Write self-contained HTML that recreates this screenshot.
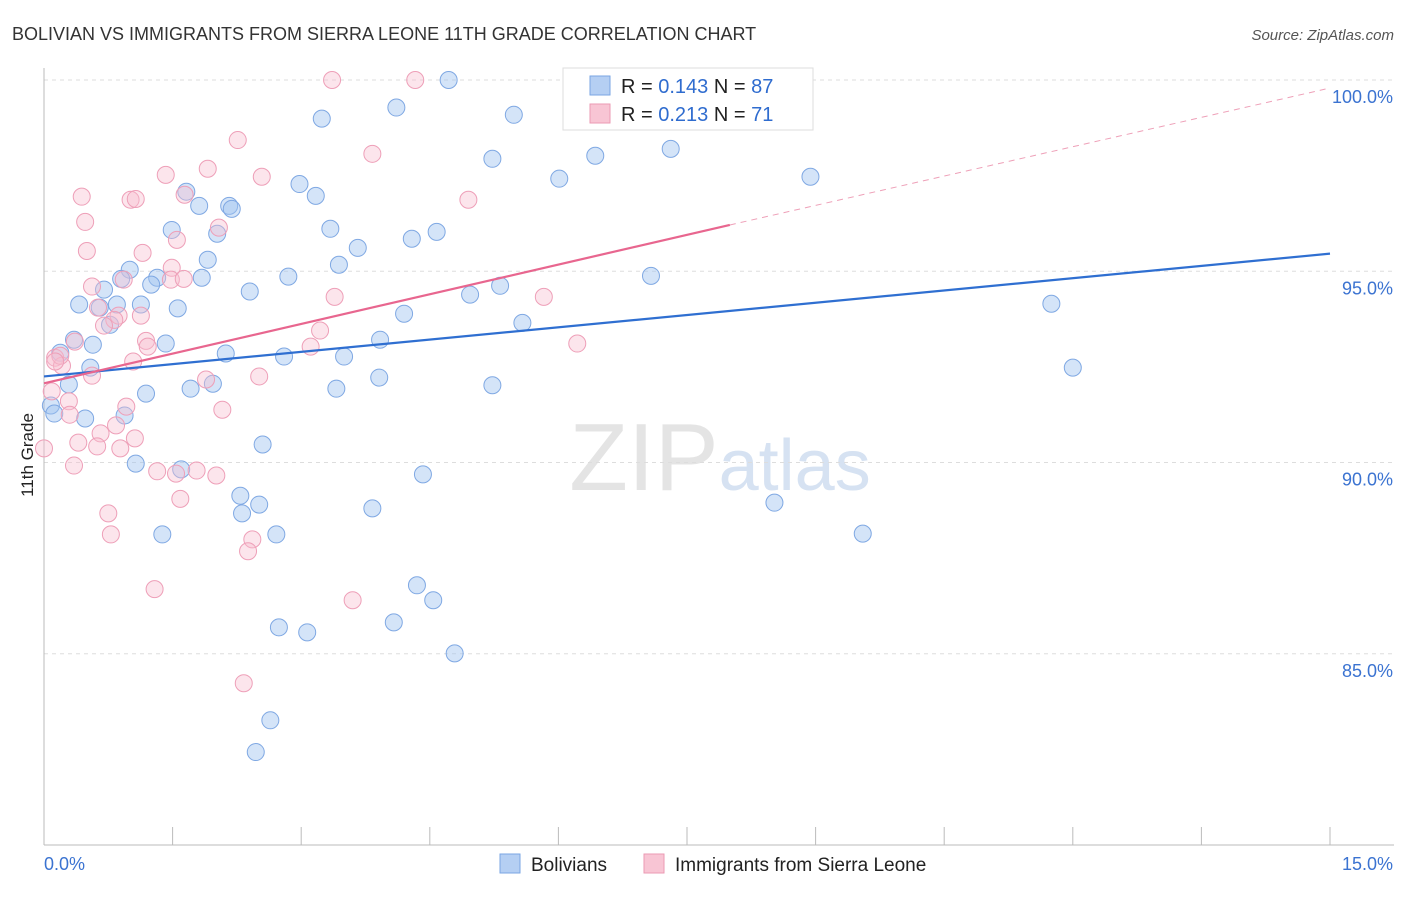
<!DOCTYPE html>
<html><head><meta charset="utf-8">
<style>
body{margin:0;background:#fff;font-family:"Liberation Sans",sans-serif;}
svg text{font-family:"Liberation Sans",sans-serif;}
</style></head>
<body>
<svg id="chart" width="1406" height="892" xmlns="http://www.w3.org/2000/svg">
<text x="12" y="40" font-size="18" fill="#333">BOLIVIAN VS IMMIGRANTS FROM SIERRA LEONE 11TH GRADE CORRELATION CHART</text>
<text x="1394" y="40" font-size="15" fill="#555" text-anchor="end" font-style="italic">Source: ZipAtlas.com</text>
<text x="720" y="490" font-size="96" text-anchor="middle" fill="#e4e4e4" font-family="Liberation Serif">ZIP<tspan fill="#d6e2f2" font-family="Liberation Sans" font-size="72">atlas</tspan></text>
<g id="grid"></g>
<g id="axes"></g>
<g id="pts"></g>
<g id="lines"></g>
<text transform="translate(33,455) rotate(-90)" font-size="17" fill="#222" text-anchor="middle">11th Grade</text>
<g>
<rect x="563" y="68" width="250" height="62" fill="#fff" stroke="#ddd"/>
<rect x="590" y="76" width="20" height="19" fill="#b5cff3" stroke="#7aa6e3"/>
<rect x="590" y="104" width="20" height="19" fill="#f8c5d4" stroke="#eb9ab3"/>
<text x="621" y="93" font-size="20" fill="#222">R = <tspan fill="#2f6ccf">0.143</tspan>   N = <tspan fill="#2f6ccf">87</tspan></text>
<text x="621" y="121" font-size="20" fill="#222">R = <tspan fill="#2f6ccf">0.213</tspan>   N = <tspan fill="#2f6ccf"> 71</tspan></text>
</g>
<g>
<rect x="500" y="854" width="20" height="19" fill="#b5cff3" stroke="#7aa6e3"/>
<text x="531" y="871" font-size="19" fill="#222">Bolivians</text>
<rect x="644" y="854" width="20" height="19" fill="#f8c5d4" stroke="#eb9ab3"/>
<text x="675" y="871" font-size="19" fill="#222">Immigrants from Sierra Leone</text>
</g>
</svg>
<script>
const yTicks=[100,95,90,85];
const yTickLabels=["100.0%","95.0%","90.0%","85.0%"];
const xTicks=[0,1.5,3,4.5,6,7.5,9,10.5,12,13.5,15];
const xEndLabels=["0.0%","15.0%"];
const bolX=[6.41,4.72,8.08,4.11,3.24,5.48,5.23,6.43,7.31,6.01,8.94,2.98,3.17,1.66,1.81,2.16,2.19,1.49,2.02,3.34,4.58,4.29,3.66,1.91,1.00,3.44,2.85,1.32,0.90,1.25,1.84,2.40,4.97,5.32,7.08,11.75,0.70,0.41,0.65,1.13,0.85,1.56,4.20,5.58,0.77,0.35,0.57,1.42,3.92,0.19,0.54,3.50,2.12,2.80,12.0,0.29,3.91,1.19,1.71,1.97,3.41,5.23,0.08,0.12,0.48,0.94,2.55,1.07,1.60,4.42,8.52,2.29,2.51,2.31,3.83,1.38,2.71,9.55,4.35,4.54,2.74,3.07,4.08,4.79,2.64,2.47];
const bolY=[100.0,100.0,100.0,99.28,98.99,99.09,97.94,98.02,98.20,97.42,97.47,97.28,96.97,97.08,96.71,96.71,96.63,96.08,95.98,96.11,96.03,95.85,95.61,95.30,95.04,95.17,94.86,94.83,94.80,94.65,94.83,94.47,94.39,94.62,94.88,94.15,94.52,94.13,94.05,94.13,94.13,94.03,93.89,93.65,93.60,93.21,93.08,93.11,93.21,92.87,92.48,92.77,92.85,92.77,92.48,92.04,92.22,91.80,91.93,92.06,91.93,92.02,91.49,91.28,91.15,91.23,90.47,89.97,89.82,89.69,88.95,89.13,88.90,88.67,88.80,88.12,88.12,88.14,86.79,86.40,85.69,85.56,85.82,85.01,83.26,82.43];
const sleX=[3.36,4.33,2.26,3.83,1.91,1.42,2.54,0.44,1.64,1.01,1.07,4.95,0.48,2.04,1.55,0.50,1.15,1.49,1.48,1.63,0.56,0.93,3.39,5.83,0.63,0.87,0.82,1.13,0.70,3.22,0.36,1.19,1.21,3.11,6.22,0.13,0.21,1.04,0.56,1.89,2.51,0.09,0.29,0.96,2.08,0.30,0.84,0.66,0.40,1.06,0.62,0.89,0.0,0.35,1.32,1.54,1.78,2.01,0.75,1.59,0.78,2.43,2.38,1.29,3.60,2.33,0.19,0.13];
const sleY=[100.0,100.0,98.43,98.07,97.68,97.52,97.47,96.95,97.00,96.87,96.89,96.87,96.29,96.14,95.82,95.53,95.48,95.09,94.78,94.80,94.60,94.78,94.33,94.33,94.05,93.84,93.73,93.84,93.58,93.45,93.16,93.18,93.03,93.03,93.11,92.74,92.53,92.64,92.27,92.17,92.25,91.86,91.60,91.46,91.38,91.25,90.97,90.76,90.52,90.63,90.42,90.37,90.37,89.92,89.77,89.71,89.79,89.66,88.67,89.05,88.12,87.99,87.68,86.69,86.40,84.23,92.79,92.64];
const bolLine=[[0,92.25],[15,95.46]];
const sleLine=[[0,92.07],[8.0,96.21],[15,99.79]];
const X0=44,X1=1330,YT=80,YB=845,YMIN=80,YMAX=100;
const sx=v=>X0+(v/15)*(X1-X0);
const sy=v=>YB-(v-YMIN)/(YMAX-YMIN)*(YB-YT);
const NS="http://www.w3.org/2000/svg";
function mk(tag,attrs,parent){const e=document.createElementNS(NS,tag);for(const k in attrs)e.setAttribute(k,attrs[k]);document.getElementById(parent).appendChild(e);return e;}
yTicks.forEach((t,i)=>{
 const l=mk('line',{x1:X0,x2:1394,y1:sy(t),y2:sy(t),stroke:'#ddd','stroke-dasharray':'4,4'},'grid');
 
 
 const tx=mk('text',{x:1393,y:sy(t)+23,'font-size':18,fill:'#3b73d1','text-anchor':'end'},'axes');
 tx.textContent=yTickLabels[i];
 
 
});
const ax=mk('line',{x1:X0,x2:1394,y1:YB,y2:YB,stroke:'#bbb'},'axes');


const ay=mk('line',{x1:X0,x2:X0,y1:68,y2:YB,stroke:'#bbb'},'axes');


xTicks.forEach(t=>{
 const l=mk('line',{x1:sx(t),x2:sx(t),y1:YB-18,y2:YB,stroke:'#bbb'},'axes');
 
 
});
const xl0=mk('text',{x:44,y:870,'font-size':18,fill:'#3b73d1'},'axes');xl0.textContent=xEndLabels[0];


const xl1=mk('text',{x:1393,y:870,'font-size':18,fill:'#3b73d1','text-anchor':'end'},'axes');xl1.textContent=xEndLabels[1];


bolX.forEach((v,i)=>{
 const c=mk('circle',{cx:sx(v),cy:sy(bolY[i]),r:8.5,fill:'rgba(160,195,240,0.45)',stroke:'#7fa8e3','stroke-width':1},'pts');
 
 
});
sleX.forEach((v,i)=>{
 const c=mk('circle',{cx:sx(v),cy:sy(sleY[i]),r:8.5,fill:'rgba(248,190,208,0.4)',stroke:'#ee9fb8','stroke-width':1},'pts');
 
 
});
const bl=mk('line',{x1:sx(bolLine[0][0]),y1:sy(bolLine[0][1]),x2:sx(bolLine[1][0]),y2:sy(bolLine[1][1]),stroke:'#2f6fd1','stroke-width':2.2},'lines');


const pl=mk('line',{x1:sx(sleLine[0][0]),y1:sy(sleLine[0][1]),x2:sx(sleLine[1][0]),y2:sy(sleLine[1][1]),stroke:'#e8668f','stroke-width':2.2},'lines');


const pd=mk('line',{x1:sx(sleLine[1][0]),y1:sy(sleLine[1][1]),x2:sx(sleLine[2][0]),y2:sy(sleLine[2][1]),stroke:'#eea0b8','stroke-width':1,'stroke-dasharray':'6,5'},'lines');


</script>
</body></html>
